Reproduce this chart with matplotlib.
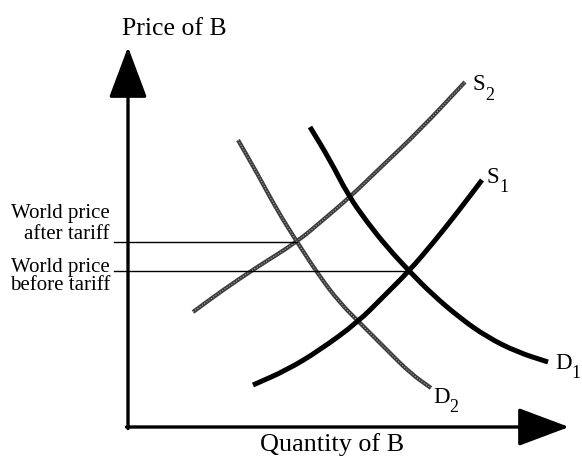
import matplotlib.pyplot as plt
from matplotlib.path import Path
from matplotlib.patches import PathPatch

plt.rcParams['font.family'] = ['Liberation Serif', 'DejaVu Serif']

# curve points (quantity, price)
s1_q = [125, 159, 192, 230, 255, 282, 305, 329, 354]
s1_p = [42, 57, 77, 105, 130, 157, 184, 214, 247]
d1_q = [182, 202, 220, 239, 259, 282, 305, 332, 359, 389, 420]
d1_p = [300, 267, 232, 205, 180, 155, 132, 109, 90, 75, 65]
s2_q = [65, 95, 129, 169, 195, 222, 252, 292, 337]
s2_p = [115, 137, 160, 185, 207, 230, 259, 297, 345]
d2_q = [110, 129, 149, 169, 192, 212, 232, 259, 282, 303]
d2_p = [287, 254, 217, 185, 150, 124, 104, 77, 54, 39]

# world price levels and where their lines stop
world_labels = [['World price', 'after tariff'], ['World price', 'before tariff']]
world_p = [185, 156]
world_q_end = [169, 282]
world_label_base = [[209, 188], [155, 137]]


def smooth_path(q, p):
    """quadratic bezier path: read points are control points, midpoints are on the curve"""
    pts = list(zip(q, p))
    verts = [pts[0]]
    codes = [Path.MOVETO]
    mids = [((a[0] + b[0]) / 2, (a[1] + b[1]) / 2) for a, b in zip(pts[:-1], pts[1:])]
    verts.append(mids[0])
    codes.append(Path.LINETO)
    for i in range(1, len(pts) - 1):
        verts += [pts[i], mids[i]]
        codes += [Path.CURVE3, Path.CURVE3]
    verts.append(pts[-1])
    codes.append(Path.LINETO)
    return Path(verts, codes)


def draw_curve(ax, q, p, **kw):
    ax.add_patch(PathPatch(smooth_path(q, p), fill=False, capstyle='butt', joinstyle='round', **kw))


fig = plt.figure(figsize=(5.82, 4.59), dpi=100)
ax = fig.add_axes([0, 0, 1, 1])
ax.set_xlim(-128, 454)
ax.set_ylim(-32, 427)
ax.axis('off')

# axes with arrow heads
arrow = dict(arrowstyle='-|>,head_length=1.6,head_width=0.6', lw=2.4, color='black',
             mutation_scale=20, shrinkA=0, shrinkB=0)
ax.annotate('', xy=(0, 380), xytext=(0, -1.5), arrowprops=arrow)
ax.annotate('', xy=(441, 0), xytext=(-1.5, 0), arrowprops=arrow)

# world price lines + labels
for p, qe, lines, bases in zip(world_p, world_q_end, world_labels, world_label_base):
    ax.plot([-14, qe], [p, p], color='black', lw=1.0)
    for txt, b in zip(lines, bases):
        ax.text(-18, b, txt, ha='right', va='baseline', fontsize=15)

# shifted curves (grey, textured)
for q, p in [(s2_q, s2_p), (d2_q, d2_p)]:
    draw_curve(ax, q, p, edgecolor='#3c3c3c', lw=3.0)
    draw_curve(ax, q, p, edgecolor='#a8a8a8', lw=0.8, linestyle=(0, (1, 1.5)))

# original curves
draw_curve(ax, s1_q, s1_p, edgecolor='black', lw=3.6)
draw_curve(ax, d1_q, d1_p, edgecolor='black', lw=3.6)

# curve labels with subscripts
labels = [('S', '2', 345, 337), ('S', '1', 359, 244), ('D', '1', 427, 58), ('D', '2', 305, 24)]
for letter, sub, q, p in labels:
    t = ax.text(q, p, letter, fontsize=16.5, ha='left', va='baseline')
    ax.annotate(sub, xy=(q, p), xycoords='data', xytext=(1.0, 0), textcoords=t,
                fontsize=13, ha='left', va='center')

ax.text(46, 392, 'Price of B', fontsize=18.5, ha='center', va='baseline')
ax.text(204, -24, 'Quantity of B', fontsize=18.8, ha='center', va='baseline')

fig.savefig('out.png', dpi=100)
